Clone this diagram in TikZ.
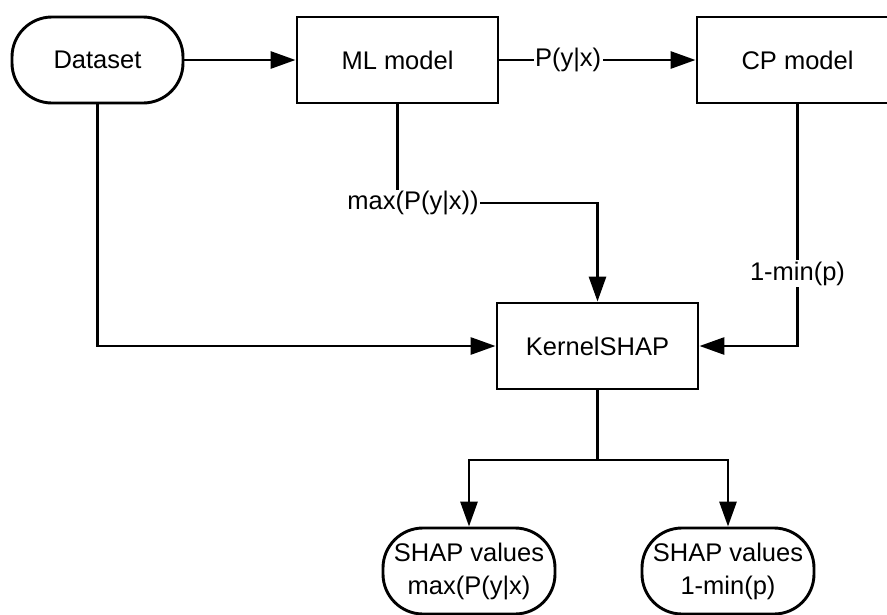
\documentclass[tikz,border=0pt]{standalone}
\usepackage{fontspec}
\setmainfont{Liberation Sans}
\usetikzlibrary{arrows.meta}
\tikzset{
  flowline/.style={line width=2.9pt},
  termbox/.style={draw, line width=2.9pt, rounded corners=40pt, minimum width=171pt, minimum height=86pt, align=center, inner sep=2pt},
  procbox/.style={draw, line width=2.9pt, minimum width=201pt, minimum height=86pt, inner sep=2pt},
  lbl/.style={fill=white, inner sep=1.5pt},
  tip/.style={-{Triangle[length=25pt,width=17pt]}}
}
\begin{document}
\begin{tikzpicture}[x=1pt,y=-1pt, font=\fontsize{25.5}{30}\selectfont]
\useasboundingbox (0,0) rectangle (887,614);
\clip (0,0) rectangle (887,614);
\node[termbox] (ds) at (97.5,60) {Dataset};
\node[procbox] (ml) at (397.5,60) {ML model};
\node[procbox] (cp) at (797.5,60) {CP model};
\node[procbox] (ks) at (597.5,346) {KernelSHAP};
\node[termbox, minimum width=172pt, font=\fontsize{25.5}{33}\selectfont] (s1) at (469,571) {SHAP values\\max(P(y|x)};
\node[termbox, minimum width=172pt, font=\fontsize{25.5}{33}\selectfont] (s2) at (728,571) {SHAP values\\1-min(p)};
\coordinate (c1) at (397.5,203);
\coordinate (br) at (597.5,460);
\draw[flowline, tip] (ds) -- (ml);
\draw[flowline, tip] (ml) -- node[lbl, pos=0.35] (lp) {P(y|x)} (cp);
\draw[flowline, tip] (ml.south) -- (c1) -| (ks.north);
\node[lbl] (lmax) at (413,203) {max(P(y|x))};
\draw[flowline, tip] (ds.south) |- (ks.west);
\draw[flowline, tip] (cp.south) |- node[lbl, pos=0.35] (lmin) {1-min(p)} (ks.east);
\draw[flowline] (ks.south) -- (br);
\draw[flowline, tip] (br) -| (s1.north);
\draw[flowline, tip] (br) -| (s2.north);
\end{tikzpicture}
\end{document}
